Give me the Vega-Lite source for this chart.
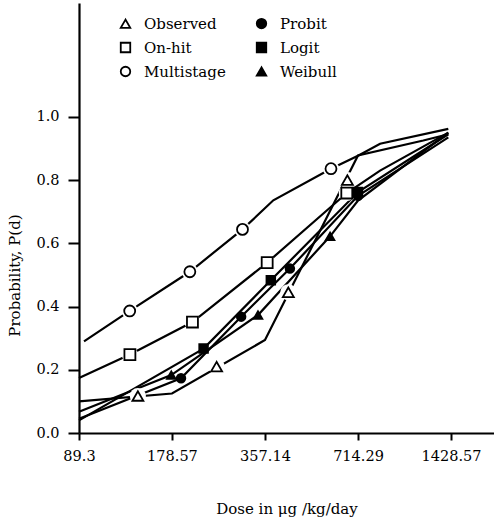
{
  "$schema": "https://vega.github.io/schema/vega-lite/v6.json",
  "width": 415,
  "height": 430,
  "autosize": {"type": "none"},
  "padding": {"left": 79, "top": 3, "right": 0, "bottom": 92},
  "background": "white",
  "config": {
    "view": {"stroke": null},
    "font": "DejaVu Serif",
    "axis": {
      "grid": false,
      "domainColor": "black",
      "tickColor": "black",
      "labelColor": "black",
      "titleColor": "black",
      "domainWidth": 2.2,
      "tickWidth": 2,
      "labelFont": "DejaVu Serif",
      "titleFont": "DejaVu Serif",
      "labelFontSize": 14.5,
      "titleFontSize": 15,
      "titleFontWeight": "normal",
      "labelFlush": false
    },
    "legend": {
      "orient": "none",
      "legendX": 39,
      "legendY": 13,
      "columns": 2,
      "symbolSize": 90,
      "symbolStrokeWidth": 1.8,
      "labelFontSize": 15,
      "labelFont": "DejaVu Serif",
      "labelColor": "black",
      "labelOffset": 11,
      "columnPadding": 27,
      "rowPadding": 7,
      "padding": 0
    }
  },
  "datasets": {
    "lines": [
      {"series": "Multistage", "dose": 92.7, "p": 0.29},
      {"series": "Multistage", "dose": 130.3, "p": 0.386},
      {"series": "Multistage", "dose": 204, "p": 0.51},
      {"series": "Multistage", "dose": 302, "p": 0.644},
      {"series": "Multistage", "dose": 380, "p": 0.736},
      {"series": "Multistage", "dose": 584, "p": 0.836},
      {"series": "Multistage", "dose": 717, "p": 0.878},
      {"series": "Multistage", "dose": 842, "p": 0.915},
      {"series": "Multistage", "dose": 1400, "p": 0.962},
      {"series": "On-hit", "dose": 89.3, "p": 0.174},
      {"series": "On-hit", "dose": 130.5, "p": 0.248},
      {"series": "On-hit", "dose": 208, "p": 0.351},
      {"series": "On-hit", "dose": 363, "p": 0.539},
      {"series": "On-hit", "dose": 657, "p": 0.759},
      {"series": "On-hit", "dose": 842, "p": 0.83},
      {"series": "On-hit", "dose": 1400, "p": 0.95},
      {"series": "Observed", "dose": 89.3, "p": 0.10},
      {"series": "Observed", "dose": 178.57, "p": 0.125},
      {"series": "Observed", "dose": 357.14, "p": 0.294},
      {"series": "Observed", "dose": 714.29, "p": 0.878},
      {"series": "Observed", "dose": 1162, "p": 0.925},
      {"series": "Observed", "dose": 1400, "p": 0.945},
      {"series": "Probit", "dose": 89.3, "p": 0.045},
      {"series": "Probit", "dose": 191, "p": 0.173},
      {"series": "Probit", "dose": 299, "p": 0.368},
      {"series": "Probit", "dose": 430, "p": 0.52},
      {"series": "Probit", "dose": 714.29, "p": 0.75},
      {"series": "Probit", "dose": 1400, "p": 0.935},
      {"series": "Logit", "dose": 89.3, "p": 0.04},
      {"series": "Logit", "dose": 226, "p": 0.267},
      {"series": "Logit", "dose": 373, "p": 0.483},
      {"series": "Logit", "dose": 714.29, "p": 0.762},
      {"series": "Logit", "dose": 1400, "p": 0.945},
      {"series": "Weibull", "dose": 89.3, "p": 0.067},
      {"series": "Weibull", "dose": 177.6, "p": 0.183},
      {"series": "Weibull", "dose": 339, "p": 0.373},
      {"series": "Weibull", "dose": 580, "p": 0.622},
      {"series": "Weibull", "dose": 714.29, "p": 0.735},
      {"series": "Weibull", "dose": 1400, "p": 0.95}
    ],
    "points": [
      {"series": "Observed", "kind": "open", "dose": 138.5, "p": 0.117},
      {"series": "Observed", "kind": "open", "dose": 249, "p": 0.21},
      {"series": "Observed", "kind": "open", "dose": 425, "p": 0.445},
      {"series": "Observed", "kind": "open", "dose": 660, "p": 0.80},
      {"series": "Multistage", "kind": "open", "dose": 130.3, "p": 0.386},
      {"series": "Multistage", "kind": "open", "dose": 204, "p": 0.51},
      {"series": "Multistage", "kind": "open", "dose": 302, "p": 0.644},
      {"series": "Multistage", "kind": "open", "dose": 584, "p": 0.836},
      {"series": "On-hit", "kind": "open", "dose": 130.5, "p": 0.248},
      {"series": "On-hit", "kind": "open", "dose": 208, "p": 0.351},
      {"series": "On-hit", "kind": "open", "dose": 363, "p": 0.539},
      {"series": "On-hit", "kind": "open", "dose": 657, "p": 0.759},
      {"series": "Probit", "kind": "filled", "dose": 191, "p": 0.173},
      {"series": "Probit", "kind": "filled", "dose": 299, "p": 0.368},
      {"series": "Probit", "kind": "filled", "dose": 430, "p": 0.52},
      {"series": "Probit", "kind": "filled", "dose": 714.29, "p": 0.75},
      {"series": "Logit", "kind": "filled", "dose": 226, "p": 0.267},
      {"series": "Logit", "kind": "filled", "dose": 373, "p": 0.483},
      {"series": "Logit", "kind": "filled", "dose": 714.29, "p": 0.762},
      {"series": "Weibull", "kind": "filled", "dose": 177.6, "p": 0.183},
      {"series": "Weibull", "kind": "filled", "dose": 339, "p": 0.373},
      {"series": "Weibull", "kind": "filled", "dose": 580, "p": 0.622}
    ]
  },
  "encoding": {
    "x": {
      "field": "dose",
      "type": "quantitative",
      "scale": {"type": "log", "domain": [89.3, 1968], "nice": false, "zero": false},
      "axis": {
        "title": "Dose in μg /kg/day",
        "values": [89.3, 178.57, 357.14, 714.29, 1428.57],
        "format": ".2~f",
        "tickSize": 7,
        "labelPadding": 9,
        "titlePadding": 39
      }
    },
    "y": {
      "field": "p",
      "type": "quantitative",
      "scale": {"domain": [0, 1.36], "nice": false, "zero": true},
      "axis": {
        "title": "Probability, P(d)",
        "values": [0, 0.2, 0.4, 0.6, 0.8, 1.0],
        "format": ".1f",
        "tickSize": 11,
        "labelPadding": 9,
        "titleX": -57,
        "titleY": 272
      }
    }
  },
  "layer": [
    {
      "data": {"name": "lines"},
      "mark": {"type": "line", "color": "black", "strokeWidth": 2.2},
      "encoding": {"detail": {"field": "series"}}
    },
    {
      "data": {"name": "points"},
      "transform": [{"filter": "datum.kind == 'open'"}],
      "mark": {"type": "point", "filled": true, "shape": "circle", "size": 260, "color": "white", "opacity": 1}
    },
    {
      "data": {"name": "points"},
      "mark": {"type": "point", "filled": true, "strokeWidth": 1.8, "opacity": 1},
      "encoding": {
        "shape": {
          "field": "series",
          "type": "nominal",
          "title": null,
          "scale": {
            "domain": ["Observed", "On-hit", "Multistage", "Probit", "Logit", "Weibull"],
            "range": ["triangle-up", "square", "circle", "circle", "square", "triangle-up"]
          }
        },
        "fill": {
          "field": "series",
          "type": "nominal",
          "title": null,
          "scale": {
            "domain": ["Observed", "On-hit", "Multistage", "Probit", "Logit", "Weibull"],
            "range": ["white", "white", "white", "black", "black", "black"]
          }
        },
        "stroke": {
          "field": "series",
          "type": "nominal",
          "title": null,
          "scale": {
            "domain": ["Observed", "On-hit", "Multistage", "Probit", "Logit", "Weibull"],
            "range": ["black", "black", "black", "black", "black", "black"]
          }
        },
        "size": {"condition": {"test": "datum.kind == 'open'", "value": 120}, "value": 75}
      }
    }
  ]
}
